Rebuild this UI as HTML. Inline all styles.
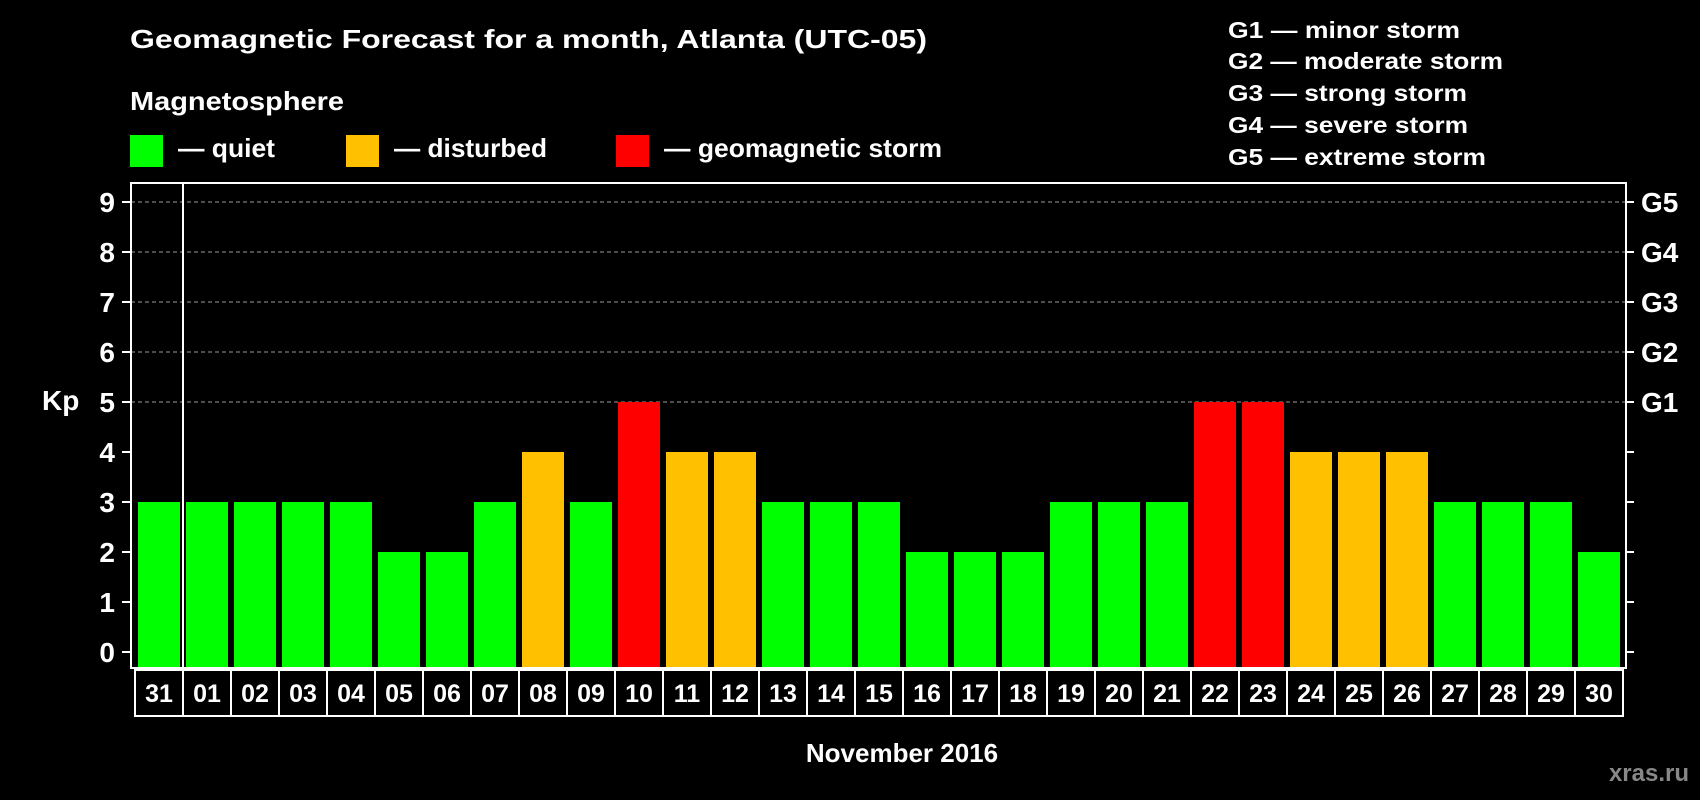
<!DOCTYPE html>
<html><head><meta charset="utf-8"><style>
html,body{margin:0;padding:0;background:#000;}
svg{display:block;font-family:"Liberation Sans",Arial,sans-serif;font-weight:bold;}
</style></head><body>
<svg id="chart" width="1700" height="800" viewBox="0 0 1700 800" xmlns="http://www.w3.org/2000/svg">
<rect width="1700" height="800" fill="#000"/>
<text x="130" y="48" fill="#fff" font-size="26" textLength="797" lengthAdjust="spacingAndGlyphs">Geomagnetic Forecast for a month, Atlanta (UTC-05)</text>
<text x="130" y="110" fill="#fff" font-size="26" textLength="214" lengthAdjust="spacingAndGlyphs">Magnetosphere</text>
<rect x="130" y="135" width="33" height="32" fill="#00ff00"/>
<text x="178" y="157" fill="#fff" font-size="26" textLength="97" lengthAdjust="spacingAndGlyphs">— quiet</text>
<rect x="346" y="135" width="33" height="32" fill="#ffc000"/>
<text x="394" y="157" fill="#fff" font-size="26" textLength="153" lengthAdjust="spacingAndGlyphs">— disturbed</text>
<rect x="616" y="135" width="33" height="32" fill="#ff0000"/>
<text x="664" y="157" fill="#fff" font-size="26" textLength="278" lengthAdjust="spacingAndGlyphs">— geomagnetic storm</text>
<g font-size="23" fill="#fff">
<text x="1228" y="38" textLength="232" lengthAdjust="spacingAndGlyphs">G1 — minor storm</text>
<text x="1228" y="69" textLength="275" lengthAdjust="spacingAndGlyphs">G2 — moderate storm</text>
<text x="1228" y="101" textLength="239" lengthAdjust="spacingAndGlyphs">G3 — strong storm</text>
<text x="1228" y="133" textLength="240" lengthAdjust="spacingAndGlyphs">G4 — severe storm</text>
<text x="1228" y="165" textLength="258" lengthAdjust="spacingAndGlyphs">G5 — extreme storm</text>
</g>
<g id="grid"></g>
<g id="bars"></g>
<g id="axes"></g>
<text x="42" y="410" fill="#fff" font-size="28">Kp</text>
<text x="902" y="762" fill="#fff" font-size="26" text-anchor="middle">November 2016</text>
<text x="1689" y="781" fill="#888" font-size="24" text-anchor="end">xras.ru</text>
</svg>
<script>
const days = ["31","01","02","03","04","05","06","07","08","09","10","11","12","13","14","15","16","17","18","19","20","21","22","23","24","25","26","27","28","29","30"];
const kp = [3,3,3,3,3,2,2,3,4,3,5,4,4,3,3,3,2,2,2,3,3,3,5,5,4,4,4,3,3,3,2];
const yTicks = [0,1,2,3,4,5,6,7,8,9];
const gLabels = ["","","","","","G1","G2","G3","G4","G5"];

const NS="http://www.w3.org/2000/svg";
const plotL=131, plotR=1626, plotT=183, plotB=668;
const y0=652, unit=50;
const xStart=135, step=48;
function yPos(v){return y0 - v*unit;}
function xCell(i){return xStart + i*step;}
function colorFor(v){return v>=5?"#ff0000":(v>=4?"#ffc000":"#00ff00");}
function mk(tag,attrs,parent){const e=document.createElementNS(NS,tag);for(const k in attrs)e.setAttribute(k,attrs[k]);parent.appendChild(e);return e;}

const grid=document.getElementById('grid'), bars=document.getElementById('bars'), axes=document.getElementById('axes');
yTicks.forEach(function(t){
  const y=yPos(t);
  if(t>=5){
    const g=mk('line',{x1:plotL,x2:plotR,y1:y,y2:y,stroke:'#9a9a9a','stroke-width':1,'stroke-dasharray':'4,3'},grid);
    
    
  }
  const tl=mk('line',{x1:122,x2:plotL,y1:y,y2:y,stroke:'#fff','stroke-width':2},axes);
  
  
  const tr=mk('line',{x1:plotR,x2:1634,y1:y,y2:y,stroke:'#fff','stroke-width':2},axes);
  
  
  const lb=mk('text',{x:115,y:y+10,fill:'#fff','font-size':28,'text-anchor':'end'},axes);
  lb.textContent=t;
  
  
  if(gLabels[t]){
    const gl=mk('text',{x:1641,y:y+10,fill:'#fff','font-size':28},axes);
    gl.textContent=gLabels[t];
    
    
  }
});
kp.forEach(function(v,i){
  const x=xCell(i)+3;
  const r=mk('rect',{x:x,y:yPos(v),width:42,height:plotB-yPos(v),fill:colorFor(v)},bars);
  
  
});
const box=mk('rect',{x:plotL,y:plotT,width:plotR-plotL,height:plotB-plotT,fill:'none',stroke:'#fff','stroke-width':2},axes);


const sep=mk('line',{x1:183,x2:183,y1:plotT,y2:plotB,stroke:'#fff','stroke-width':2},axes);


days.forEach(function(d,i){
  const x=xCell(i);
  const c=mk('rect',{x:x,y:670,width:step,height:46,fill:'none',stroke:'#fff','stroke-width':2},axes);
  
  
  const t=mk('text',{x:x+step/2,y:702,fill:'#fff','font-size':25,'text-anchor':'middle'},axes);
  t.textContent=d;
  
  
});
</script>
</body></html>
